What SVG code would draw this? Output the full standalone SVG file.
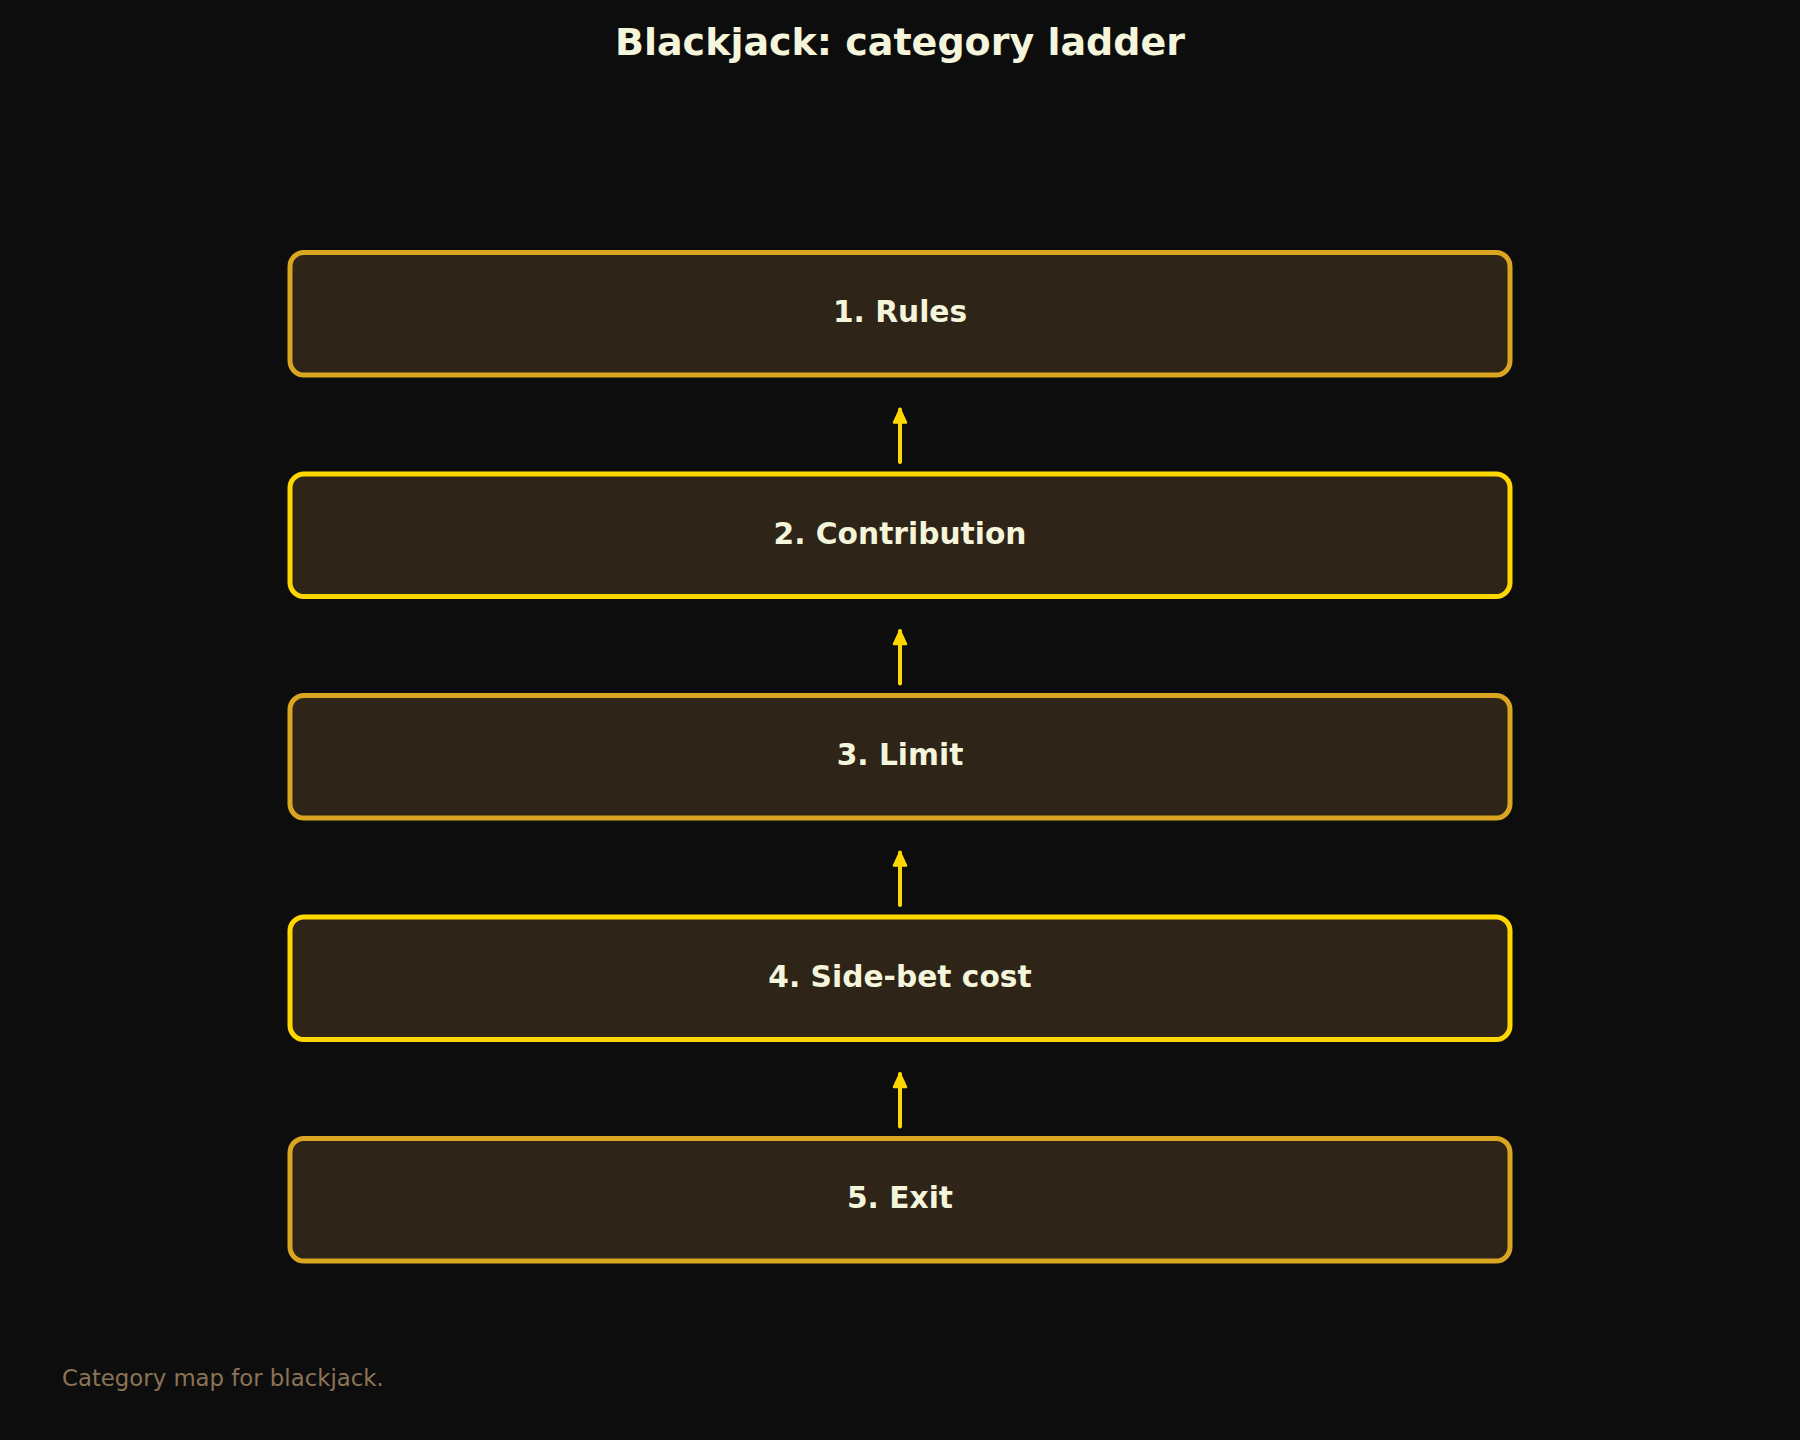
<svg xmlns="http://www.w3.org/2000/svg" width="1800" height="1440" viewBox="0 0 1800 1440">
<style>
.bg{fill:#0d0d0d}
.box{fill:#2e2418;stroke-width:5}
.odd{stroke:#daa520}
.even{stroke:#ffd700}
.lbl{font-family:"DejaVu Sans",sans-serif;font-weight:bold;font-size:29.7px;fill:#f5f5dc;text-anchor:middle}
.title{font-family:"DejaVu Sans",sans-serif;font-weight:bold;font-size:38px;fill:#f5f5dc;text-anchor:middle}
.foot{font-family:"DejaVu Sans",sans-serif;font-size:22.8px;fill:#8b7355}
.conn{stroke:#ffd700;stroke-width:4;stroke-linecap:round;fill:none}
</style>
<defs>
<marker id="ah" markerUnits="userSpaceOnUse" markerWidth="24" markerHeight="24" viewBox="-16 -12 24 24" refX="0" refY="0" orient="auto">
<path d="M-13,-6 L0,0 L-13,6 Z" fill="#ffd700" stroke="#ffd700" stroke-width="2.5" stroke-linejoin="round"/>
</marker>
</defs>
<rect class="bg" x="0" y="0" width="1800" height="1440"/>
<text class="title" x="900" y="55">Blackjack: category ladder</text>
<g id="connectors">
<line class="conn" x1="900" y1="462" x2="900" y2="409.5" marker-end="url(#ah)"/>
<line class="conn" x1="900" y1="683.5" x2="900" y2="631" marker-end="url(#ah)"/>
<line class="conn" x1="900" y1="905" x2="900" y2="852.5" marker-end="url(#ah)"/>
<line class="conn" x1="900" y1="1126.5" x2="900" y2="1074" marker-end="url(#ah)"/>
</g>
<g id="node1"><rect class="box odd" x="290" y="252.5" width="1220" height="122.5" rx="14"/><text class="lbl" x="900" y="322">1. Rules</text></g>
<g id="node2"><rect class="box even" x="290" y="474" width="1220" height="122.5" rx="14"/><text class="lbl" x="900" y="543.5">2. Contribution</text></g>
<g id="node3"><rect class="box odd" x="290" y="695.5" width="1220" height="122.5" rx="14"/><text class="lbl" x="900" y="765">3. Limit</text></g>
<g id="node4"><rect class="box even" x="290" y="917" width="1220" height="122.5" rx="14"/><text class="lbl" x="900" y="986.5">4. Side-bet cost</text></g>
<g id="node5"><rect class="box odd" x="290" y="1138.5" width="1220" height="122.5" rx="14"/><text class="lbl" x="900" y="1208">5. Exit</text></g>
<text class="foot" x="62" y="1386">Category map for blackjack.</text>
</svg>
